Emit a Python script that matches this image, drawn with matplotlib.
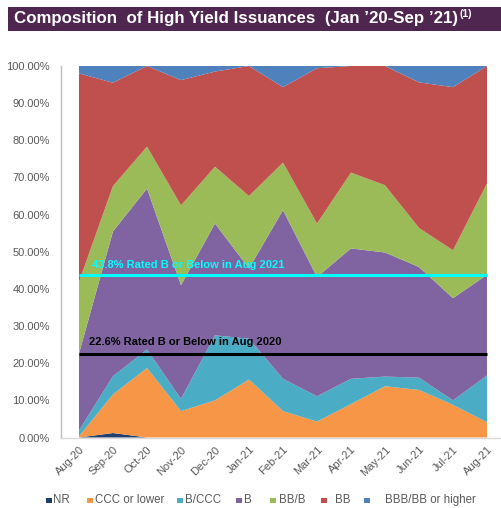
import matplotlib
matplotlib.use("Agg")
import matplotlib.pyplot as plt
from matplotlib.patches import Rectangle
import numpy as np

plt.rcParams['font.family'] = ['Liberation Sans', 'DejaVu Sans']

months = ["Aug-20", "Sep-20", "Oct-20", "Nov-20", "Dec-20", "Jan-21", "Feb-21",
          "Mar-21", "Apr-21", "May-21", "Jun-21", "Jul-21", "Aug-21"]
series_names = ["NR", "CCC or lower", "B/CCC", "B", "BB/B", "BB", "BBB/BB or higher"]
nr      = [0.0, 1.2, 0.0, 0.0, 0.0, 0.0, 0.0, 0.0, 0.0, 0.0, 0.0, 0.0, 0.0]
ccc     = [0.3, 10.4, 18.7, 7.1, 10.0, 15.6, 7.1, 4.3, 9.0, 13.8, 12.8, 8.8, 4.1]
b_ccc   = [1.6, 4.9, 5.0, 3.3, 17.5, 11.0, 8.7, 6.8, 6.8, 2.6, 3.3, 1.2, 12.6]
b       = [20.7, 39.0, 43.3, 30.6, 30.1, 18.9, 45.4, 32.1, 35.1, 33.4, 29.8, 27.5, 27.1]
bb_b    = [19.3, 12.2, 11.3, 21.5, 15.3, 19.5, 12.8, 14.4, 20.4, 18.1, 10.5, 12.9, 24.6]
bb      = [56.1, 27.8, 21.7, 33.7, 25.6, 35.0, 20.3, 41.8, 28.7, 32.1, 39.2, 43.9, 31.6]
bbb     = [2.0, 4.5, 0.0, 3.8, 1.5, 0.0, 5.7, 0.6, 0.0, 0.0, 4.4, 5.7, 0.0]
colors = ["#1F3F6E", "#F79646", "#4BACC6", "#8064A2", "#9BBB59", "#C0504D", "#4F81BD"]

line_2021 = 43.8
line_2020 = 22.6
label_2021 = "43.8% Rated B or Below in Aug 2021"
label_2020 = "22.6% Rated B or Below in Aug 2020"
title = "Composition  of High Yield Issuances  (Jan \u201920-Sep \u201921)"

W, H = 501, 508
fig = plt.figure(figsize=(W / 100, H / 100), dpi=100)

# title bar
fig.patches.append(Rectangle((8 / W, 1 - 31 / H), 1, 24 / H, transform=fig.transFigure,
                             facecolor="#4F2650", edgecolor="none"))
t = fig.text(14 / W, 1 - 18.5 / H, title, color="white", fontsize=12.2,
             fontweight="bold", va="center", ha="left")
fig.canvas.draw()
bb_t = t.get_window_extent()
fig.text(bb_t.x1 / W + 1 / W, 1 - 14 / H, "(1)", color="white", fontsize=7.5,
         fontweight="bold", va="center", ha="left")

x0, x1 = 61, 501
ytop, ybot = 66, 437.5
ax = fig.add_axes([x0 / W, 1 - ybot / H, (x1 - x0) / W, (ybot - ytop) / H])
xs = np.arange(len(months))
data = np.array([nr, ccc, b_ccc, b, bb_b, bb, bbb]) / 100.0
ax.stackplot(xs, data, colors=colors, edgecolor="none", linewidth=0)
px_per = 34.0
ax.set_xlim(-(79 - x0) / px_per, 12 + (x1 - 487) / px_per)
ax.set_ylim(0, 1)

ax.hlines(line_2021 / 100, 0, 12, color="#00FFFF", lw=2.2, zorder=5)
ax.hlines(line_2020 / 100, 0, 12, color="black", lw=2.2, zorder=5)
ax.text(0.38, line_2021 / 100 + 0.012, label_2021, color="#00FFFF", fontsize=8,
        fontweight="bold", va="bottom", ha="left", zorder=6)
ax.text(0.3, line_2020 / 100 + 0.017, label_2020, color="black", fontsize=8,
        fontweight="bold", va="bottom", ha="left", zorder=6)

ax.set_yticks(np.arange(0, 1.01, 0.1))
ax.set_yticklabels([f"{v:.2f}%" for v in np.arange(0, 101, 10)], color="#595959", fontsize=8)
ax.set_xticks(xs)
ax.set_xticklabels(months, rotation=45, ha="right", va="top", rotation_mode="anchor",
                   color="#595959", fontsize=8)
ax.tick_params(axis="both", length=0)
ax.tick_params(axis="y", pad=8)
ax.tick_params(axis="x", pad=5)
for s in ["top", "right"]:
    ax.spines[s].set_visible(False)
ax.spines["left"].set_color("#BFBFBF")
ax.spines["bottom"].set_color("#D9D9D9")
ax.spines["left"].set_linewidth(1)
ax.spines["bottom"].set_linewidth(1)

# legend placed like the original
leg_marker_x = [46, 87, 177, 236, 270, 321, 364]
leg_text_x = [53, 95, 185, 244, 279, 335, 385]
ly = 500
for name, c, mx, tx in zip(series_names, colors, leg_marker_x, leg_text_x):
    fig.patches.append(Rectangle((mx / W, 1 - (ly + 3) / H), 5.5 / W, 5.5 / H,
                                 transform=fig.transFigure, facecolor=c, edgecolor="none"))
    fig.text(tx / W, 1 - ly / H, name, color="#595959", fontsize=8.3, va="center", ha="left")

fig.savefig("out.png", dpi=100)
